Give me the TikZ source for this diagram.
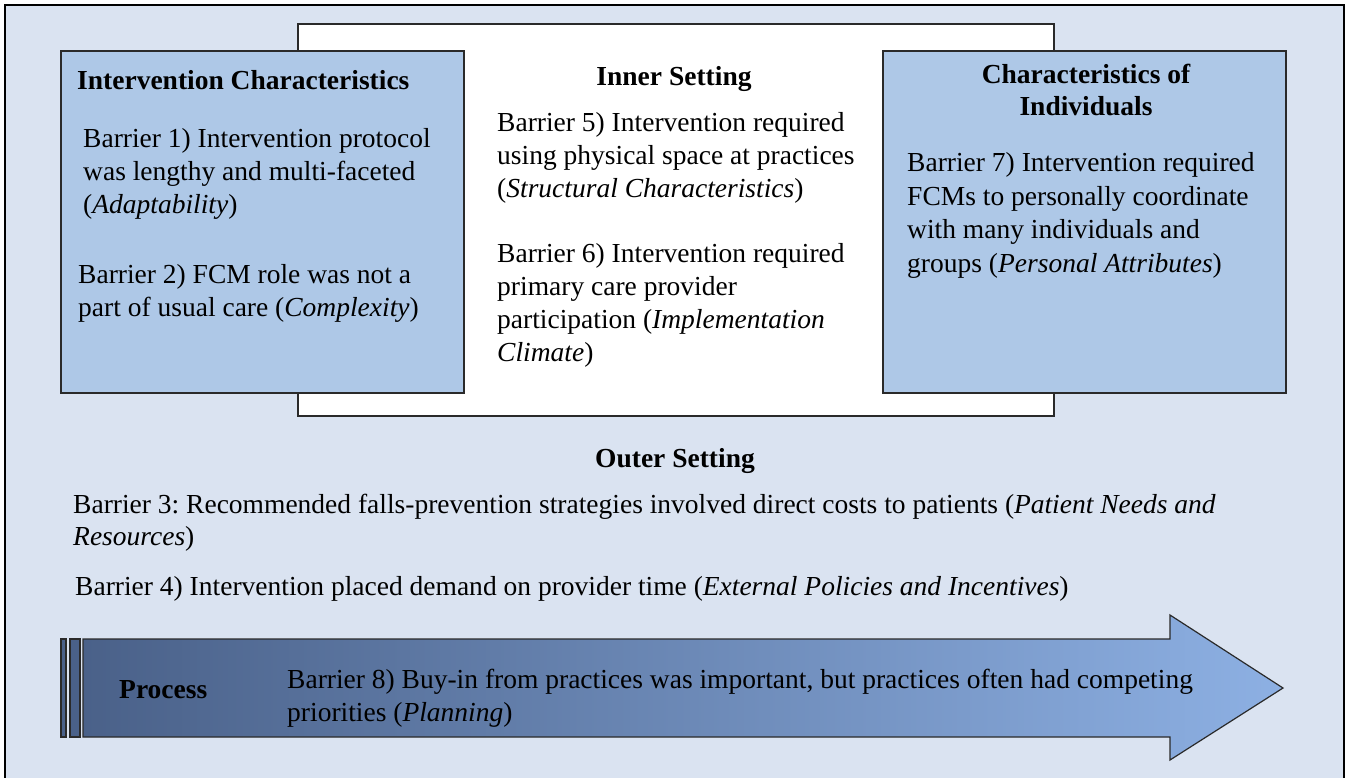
\documentclass[tikz,border=0pt]{standalone}
\usepackage{fontspec}
\setmainfont{Liberation Serif}
\frenchspacing
\definecolor{bgblue}{HTML}{DAE3F1}
\definecolor{boxblue}{HTML}{AEC8E7}
\definecolor{arrowdark}{HTML}{4A6189}
\definecolor{arrowlight}{HTML}{8DB0E3}
\definecolor{edgegray}{HTML}{2A2A2A}
\tikzset{
  txt/.style={inner sep=0pt, anchor=base west, align=left, font=\fontsize{27.5}{32.7}\selectfont},
  ttl/.style={inner sep=0pt, anchor=base, align=center, font=\fontsize{27.5}{32.7}\selectfont\bfseries},
  boxed/.style={draw=edgegray, line width=1.4pt},
}
\begin{document}
\begin{tikzpicture}[x=1pt,y=-1pt]
\useasboundingbox (0,0) rectangle (1351,777);
\clip (0,0) rectangle (1351,777);
% outer setting background
\draw[fill=bgblue, draw=black, line width=1.8pt] (5,5) rectangle (1344,800);
% inner setting
\draw[boxed, fill=white] (298,24) rectangle (1054,416);
% side boxes
\draw[boxed, fill=boxblue] (61,51) rectangle (464,393);
\draw[boxed, fill=boxblue] (883,51) rectangle (1286,393);
% process arrow
\draw[draw=edgegray, line width=1.2pt, fill=arrowdark] (61,639) rectangle (66,737);
\draw[draw=edgegray, line width=1.2pt, fill=arrowdark] (70,639) rectangle (80,737);
\draw[draw=edgegray, line width=1.2pt, left color=arrowdark, right color=arrowlight]
  (83,639) -- (1170,639) -- (1170,615) -- (1283,688) -- (1170,760) -- (1170,737) -- (83,737) -- cycle;

% Intervention characteristics (base anchor = baseline of last line)
\node[txt, font=\fontsize{27.5}{32.7}\selectfont\bfseries] (ictitle) at (77,89) {Intervention Characteristics};
\node[txt] (b1) at (83,213) {Barrier 1) Intervention protocol\\was lengthy and multi-faceted\\(\textit{Adaptability})};
\node[txt] (b2) at (78,316) {Barrier 2) FCM role was not a\\part of usual care (\textit{Complexity})};

% Inner setting
\node[ttl] (istitle) at (674,85) {Inner Setting};
\node[txt] (b5) at (497,197) {Barrier 5) Intervention required\\using physical space at practices\\(\textit{Structural Characteristics})};
\node[txt] (b6) at (497,361) {Barrier 6) Intervention required\\primary care provider\\participation (\textit{Implementation}\\\textit{Climate})};

% Characteristics of individuals
\node[ttl, font=\fontsize{27.5}{32}\selectfont\bfseries] (citile) at (1086,115) {Characteristics of\\Individuals};
\node[txt, font=\fontsize{27.5}{33.5}\selectfont] (b7) at (907,272) {Barrier 7) Intervention required\\FCMs to personally coordinate\\with many individuals and\\groups (\textit{Personal Attributes})};

% Outer setting
\node[ttl] (ostitle) at (675,467) {Outer Setting};
\node[txt, font=\fontsize{27.5}{31.5}\selectfont] (b3) at (73,545) {Barrier 3: Recommended falls-prevention strategies involved direct costs to patients (\textit{Patient Needs and}\\\textit{Resources})};
\node[txt] (b4) at (75,595) {Barrier 4) Intervention placed demand on provider time (\textit{External Policies and Incentives})};

% Process
\node[txt, font=\fontsize{27.5}{32.7}\selectfont\bfseries] (ptitle) at (119,698) {Process};
\node[txt] (b8) at (287,721) {Barrier 8) Buy-in from practices was important, but practices often had competing\\priorities (\textit{Planning})};
\end{tikzpicture}
\end{document}
